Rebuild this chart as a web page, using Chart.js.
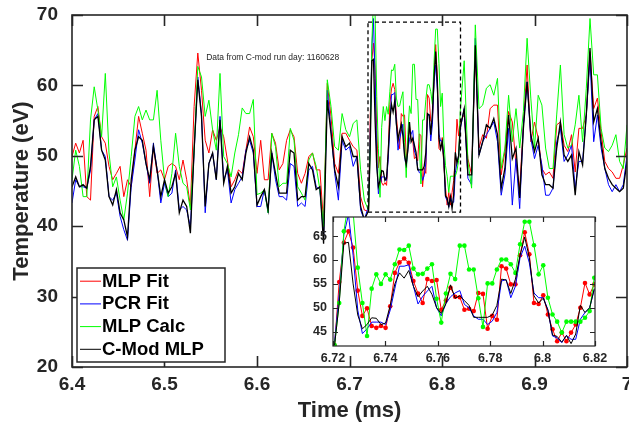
<!DOCTYPE html>
<html><head><meta charset="utf-8">
<script src="https://cdn.jsdelivr.net/npm/chart.js@4.4.1/dist/chart.umd.min.js"></script>
<style>
html,body{margin:0;padding:0;background:#fff;}
#wrap{position:relative;width:629px;height:425px;overflow:hidden;}
#main{position:absolute;left:0;top:0;}
#inset{position:absolute;left:290px;top:205px;}
</style></head><body>
<div id="wrap"><canvas id="main" width="629" height="425"></canvas><canvas id="inset" width="320" height="170"></canvas></div>
<script>
// ---------- data ----------
const seriesNames  = ['MLP Fit', 'PCR Fit', 'MLP Calc', 'C-Mod MLP'];
const seriesColors = ['#ff0000', '#0000ff', '#00ff00', '#000000'];

// main trace, 6.400 .. 6.716 ms (step 0.004)
const mlpFitA = [49.9,51.8,50.4,52.2,44.2,43.7,55.6,57.0,52.7,51.8,
  48.5,46.6,47.5,48.5,44.2,46.6,45.6,50.8,55.6,53.2,
  50.8,44.2,51.3,47.5,48.0,46.6,48.5,48.9,48.5,46.6,
  49.4,46.6,42.8,57.0,64.6,59.3,52.2,50.4,53.7,52.2,
  54.1,52.7,49.4,45.6,46.6,48.0,47.5,50.8,54.1,52.7,
  47.5,52.2,46.6,46.6,53.2,51.8,48.0,48.9,52.2,53.7,
  52.7,47.5,46.1,47.5,49.9,50.4,48.0,48.0,40.4,60.3,
  55.6,48.9,47.5,53.2,53.2,52.2,51.3,50.8,44.2,42.3];
const pcrFitA = [43.3,46.6,45.6,45.6,45.4,48.0,55.1,56.0,50.8,49.9,
  44.2,43.7,44.7,41.4,39.5,38.0,45.6,49.4,53.7,51.8,
  48.9,46.1,51.8,48.0,43.3,46.1,44.2,44.7,48.0,42.3,
  42.8,42.3,39.9,50.4,61.2,56.0,41.9,48.9,50.4,46.6,
  55.6,46.6,48.0,43.3,45.2,46.1,47.0,50.8,52.2,50.4,
  42.8,42.8,45.2,41.9,50.4,46.6,44.2,44.2,43.7,48.9,
  48.5,42.8,43.3,42.8,48.0,48.5,45.6,45.2,38.5,59.3,
  53.7,47.5,43.7,52.2,50.8,51.3,48.5,49.9,42.3,40.9];
const mlpCalcA = [46.6,50.8,48.5,44.2,44.2,55.1,59.8,56.5,52.7,61.7,
  50.4,45.6,47.0,43.7,40.9,44.7,49.9,55.6,57.0,55.1,
  56.5,55.1,55.1,59.3,52.2,46.6,44.2,47.5,53.2,48.5,
  46.1,45.6,42.3,50.8,62.7,61.2,55.6,57.9,53.7,50.8,
  61.7,49.9,48.9,47.0,50.4,53.0,56.8,56.0,56.0,58.0,
  44.5,44.7,45.2,41.9,53.2,51.3,45.6,46.1,46.1,53.9,
  52.2,45.6,44.7,43.7,49.4,50.4,48.5,45.2,39.9,60.8,
  57.0,51.3,50.8,56.0,53.7,52.7,54.6,55.1,48.0,43.7];
const cmodA = [45.6,47.0,45.6,45.9,45.4,48.5,55.1,55.6,50.8,49.4,
  44.2,43.0,45.2,41.9,40.9,38.5,46.6,50.8,52.7,52.2,
  48.9,46.6,51.3,48.0,44.2,46.6,44.7,45.6,47.5,41.9,
  43.7,42.8,39.0,50.8,60.8,55.6,42.8,48.9,50.4,46.6,
  55.1,46.1,48.5,44.7,45.6,47.5,46.6,50.4,52.7,50.8,
  43.0,44.2,45.2,42.3,50.4,47.5,44.7,44.7,44.7,50.8,
  50.4,43.7,44.2,44.2,48.9,48.0,45.2,45.6,37.5,57.9,
  53.2,48.0,45.6,52.7,51.3,51.8,49.9,49.9,42.8,40.9];

// zoomed window, 6.7206 .. 6.8197 ms (step 0.00177) - shown in inset
const mlpFitZ = [42.1,55.4,63.6,66.0,62.6,53.6,48.3,49.9,46.2,45.8,
  46.2,45.8,50.3,57.3,59.5,60.3,59.4,55.6,53.0,51.0,
  56.0,55.6,55.8,49.6,51.5,54.2,52.3,52.2,49.6,49.8,
  49.3,53.1,52.9,45.6,48.3,47.5,58.7,58.2,54.9,54.9,
  61.0,65.8,61.2,51.0,50.8,52.6,48.6,45.5,43.0,44.8,
  43.0,44.8,46.5,50.0,55.2,52.8,54.9];
const pcrFitZ = [42.9,52.8,65.3,69.5,61.0,49.5,44.6,45.6,47.0,47.0,
  47.0,46.5,49.5,54.0,58.7,58.7,59.0,54.5,50.8,52.4,
  53.5,54.5,50.0,48.3,50.9,52.3,53.1,53.6,50.7,50.0,
  48.3,47.6,47.6,46.5,47.2,49.0,55.6,55.9,52.1,54.5,
  60.5,62.9,59.4,53.1,52.1,52.1,49.6,44.1,43.7,42.7,
  44.2,43.4,43.4,47.6,49.0,50.0,53.8];
const mlpCalcZ = [42.2,51.0,66.0,72.0,70.0,58.4,51.0,44.1,54.0,57.0,
  55.0,57.0,55.9,59.1,62.2,62.1,63.0,58.2,57.0,57.1,
  58.2,59.1,51.9,46.9,53.0,57.1,56.0,63.0,63.0,58.0,
  58.0,52.0,46.0,55.1,55.1,58.0,60.1,60.1,59.1,57.3,
  63.3,68.0,68.0,63.1,57.0,58.9,52.1,48.6,47.1,44.8,
  47.1,47.1,47.1,47.1,47.9,49.3,56.3];
const cmodZ = [42.2,51.0,63.5,63.7,55.0,48.5,45.6,46.5,47.9,47.8,
  46.5,46.8,50.5,55.0,57.3,56.2,57.8,54.5,52.3,53.5,
  54.5,52.8,50.0,48.8,50.8,54.8,52.0,52.5,51.5,50.5,
  48.0,48.0,48.0,48.0,48.5,50.5,56.0,55.8,53.0,56.0,
  61.0,64.8,60.5,52.5,51.0,52.0,49.5,44.3,44.0,42.8,
  44.2,42.5,44.5,50.5,49.0,50.0,54.0];

// main trace, 6.824 .. 7.000 ms (step 0.004)
const mlpFitB = [55.8,49.6,47.3,64.8,51.1,53.0,52.5,56.7,57.2,57.2,
  47.3,50.6,56.3,54.8,48.7,45.4,54.4,62.9,52.0,54.8,
  52.5,48.2,47.3,47.7,46.8,54.4,54.8,51.5,50.6,53.0,
  47.7,53.9,53.9,55.8,64.8,56.7,58.2,53.4,49.2,48.2,
  47.7,46.8,46.8,48.7,51.1];
const pcrFitB = [56.7,46.8,45.9,66.7,50.1,52.0,53.0,53.9,54.8,52.0,
  44.4,47.3,53.9,43.0,49.6,42.5,54.4,60.5,52.5,49.6,
  51.5,48.7,44.4,44.4,45.4,52.0,53.9,49.2,50.1,51.5,
  45.4,49.2,49.2,55.8,63.8,52.0,55.8,51.1,48.2,45.9,
  44.9,45.9,44.9,45.9,50.1];
const mlpCalcB = [63.5,49.2,45.4,68.6,56.7,57.2,59.6,60.1,58.6,61.0,
  48.2,51.1,58.6,52.0,56.7,51.1,56.3,66.7,58.2,51.1,
  58.6,57.2,51.1,48.2,48.2,55.8,62.9,53.0,51.1,51.5,
  54.4,58.6,52.0,59.6,69.5,61.5,61.5,53.9,51.1,50.6,
  51.5,53.0,49.2,48.2,54.4];
const cmodB = [56.7,47.3,47.3,65.7,50.1,52.0,54.4,53.9,55.3,53.0,
  45.4,48.2,55.8,49.6,51.1,44.0,53.9,60.5,53.0,50.6,
  52.5,47.3,45.9,45.9,45.4,51.1,54.8,50.1,49.2,50.1,
  44.4,50.6,48.7,55.8,65.3,54.8,56.7,52.0,48.2,46.8,
  45.9,45.4,44.9,45.4,49.2];

// sampling times
const startA = 6.400, startZ = 6.7206, startB = 6.824;
const stepMain = 0.004, stepZoom = 0.00177;
const timeA = mlpFitA.map((_, i) => startA + stepMain * i);
const timeZ = mlpFitZ.map((_, k) => startZ + stepZoom * k);
const timeB = mlpFitB.map((_, i) => startB + stepMain * i);

// ticks
const xTicks = [6.4, 6.5, 6.6, 6.7, 6.8, 6.9, 7.0];
const xTickLabels = ['6.4', '6.5', '6.6', '6.7', '6.8', '6.9', '7'];
const yTicks = [20, 30, 40, 50, 60, 70];
const yTickLabels = ['20', '30', '40', '50', '60', '70'];
const insetXTicks = [6.72, 6.74, 6.76, 6.78, 6.80, 6.82];
const insetXTickLabels = ['6.72', '6.74', '6.76', '6.78', '6.8', '6.82'];
const insetYTicks = [45, 50, 55, 60, 65];
const insetYTickLabels = ['45', '50', '55', '60', '65'];

// zoom window (also shown as dashed box) and note
const zoomWindow = {x0: 6.72, x1: 6.82, y0: 42, y1: 69};
const noteText = 'Data from C-mod run day: 1160628';
const noteAt = {x: 6.545, y: 64.0};

// ---------- helpers ----------
const FONT = '"Liberation Sans", Arial, Helvetica, sans-serif';
const AXIS = '#262626';
const mainSets = [[mlpFitA, mlpFitZ, mlpFitB], [pcrFitA, pcrFitZ, pcrFitB],
                  [mlpCalcA, mlpCalcZ, mlpCalcB], [cmodA, cmodZ, cmodB]];
function joinSeries(a, z, b) {
  return [].concat(a.map((v, i) => ({x: timeA[i], y: v})),
                   z.map((v, k) => ({x: timeZ[k], y: v})),
                   b.map((v, i) => ({x: timeB[i], y: v})));
}
const drawOrder = [3, 2, 1, 0];

function drawInTicks(chart, len, lw) {
  const {ctx, chartArea: a, scales: {x, y}} = chart;
  ctx.save();
  ctx.strokeStyle = AXIS; ctx.lineWidth = lw;
  ctx.beginPath();
  x.ticks.forEach(t => {
    const p = Math.round(x.getPixelForValue(t.value)) + 0.5;
    ctx.moveTo(p, a.bottom); ctx.lineTo(p, a.bottom - len);
    ctx.moveTo(p, a.top); ctx.lineTo(p, a.top + len);
  });
  y.ticks.forEach(t => {
    const p = Math.round(y.getPixelForValue(t.value)) + 0.5;
    ctx.moveTo(a.left, p); ctx.lineTo(a.left + len, p);
    ctx.moveTo(a.right, p); ctx.lineTo(a.right - len, p);
  });
  ctx.stroke();
  ctx.strokeRect(a.left, a.top, a.right - a.left, a.bottom - a.top);
  ctx.restore();
}

const mainDecor = {
  id: 'mainDecor',
  afterDatasetsDraw(chart) {
    const {ctx, chartArea: a, scales: {x, y}} = chart;
    // dashed zoom box
    ctx.save();
    ctx.strokeStyle = '#000'; ctx.lineWidth = 1.3; ctx.setLineDash([4, 3]);
    const x0 = x.getPixelForValue(zoomWindow.x0), x1 = x.getPixelForValue(zoomWindow.x1);
    const y0 = y.getPixelForValue(zoomWindow.y0), y1 = y.getPixelForValue(zoomWindow.y1);
    ctx.strokeRect(x0, y1, x1 - x0, y0 - y1);
    ctx.restore();
    // note
    ctx.save();
    ctx.fillStyle = AXIS; ctx.font = '8.5px ' + FONT;
    ctx.textAlign = 'left'; ctx.textBaseline = 'middle';
    ctx.fillText(noteText, x.getPixelForValue(noteAt.x), y.getPixelForValue(noteAt.y));
    ctx.restore();
    drawInTicks(chart, 11, 1.6);
    // legend
    ctx.save();
    const bx = a.left + 5, bw = 148, bh = 94, by = a.bottom - 5 - bh, rowH = 22.7;
    ctx.fillStyle = '#fff'; ctx.fillRect(bx, by, bw, bh);
    ctx.strokeStyle = AXIS; ctx.lineWidth = 1.5; ctx.strokeRect(bx, by, bw, bh);
    ctx.font = 'bold 18.5px ' + FONT; ctx.textBaseline = 'middle'; ctx.textAlign = 'left';
    chart.data.datasets.forEach((ds, i) => {
      const cy = by + 12.7 + i * rowH;
      ctx.strokeStyle = ds.borderColor; ctx.lineWidth = 1;
      ctx.beginPath(); ctx.moveTo(bx + 3, cy + 0.5); ctx.lineTo(bx + 24, cy + 0.5); ctx.stroke();
      ctx.fillStyle = '#000';
      ctx.fillText(ds.label, bx + 25, cy + 1);
    });
    ctx.restore();
  }
};

new Chart(document.getElementById('main'), {
  type: 'line',
  data: {
    datasets: seriesNames.map((name, i) => ({
      label: name,
      data: joinSeries(...mainSets[i]),
      borderColor: seriesColors[i],
      borderWidth: i === 3 ? 1.3 : 1,
      pointRadius: 0,
      tension: 0,
      fill: false,
      order: drawOrder[i]
    }))
  },
  options: {
    responsive: false, animation: false, events: [],
    layout: {padding: {left: 0, right: 2, top: 15, bottom: 0}},
    plugins: {legend: {display: false}, tooltip: {enabled: false}},
    scales: {
      x: {
        type: 'linear', min: 6.4, max: 7.0,
        afterBuildTicks: s => { s.ticks = xTicks.map(v => ({value: v})); },
        ticks: {callback: (v, i) => xTickLabels[i], font: {family: FONT, size: 19, weight: 'bold'},
                color: AXIS, padding: 6, maxRotation: 0, autoSkip: false},
        grid: {display: false, drawTicks: false}, border: {display: false},
        title: {display: true, text: 'Time (ms)', color: AXIS,
                font: {family: FONT, size: 22, weight: 'bold'}, padding: {top: 0, bottom: 1}},
        afterFit: s => { s.height = 58; s.paddingLeft = 0; s.paddingRight = 0; }
      },
      y: {
        min: 20, max: 70,
        afterBuildTicks: s => { s.ticks = yTicks.map(v => ({value: v})); },
        ticks: {callback: (v, i) => yTickLabels[i], font: {family: FONT, size: 19, weight: 'bold'},
                color: AXIS, padding: 14},
        grid: {display: false, drawTicks: false}, border: {display: false},
        title: {display: true, text: 'Temperature (eV)', color: AXIS,
                font: {family: FONT, size: 22, weight: 'bold'}, padding: {top: 9, bottom: 0}},
        afterFit: s => { s.width = 72; s.paddingTop = 0; s.paddingBottom = 0; }
      }
    }
  },
  plugins: [mainDecor]
});

// ---------- inset ----------
const insetDecor = {
  id: 'insetDecor',
  beforeDatasetsDraw(chart) {
    const {ctx, chartArea: a} = chart;
    ctx.save(); ctx.fillStyle = '#fff';
    ctx.fillRect(a.left, a.top, a.right - a.left, a.bottom - a.top);
    ctx.restore();
  },
  afterDatasetsDraw(chart) { drawInTicks(chart, 5, 1.2); }
};
const insetSets = [mlpFitZ, pcrFitZ, mlpCalcZ, cmodZ];
const insetMarkers = [true, false, true, false];

new Chart(document.getElementById('inset'), {
  type: 'line',
  data: {
    datasets: seriesNames.map((name, i) => ({
      label: name,
      data: insetSets[i].map((v, k) => ({x: timeZ[k], y: v})),
      borderColor: seriesColors[i],
      backgroundColor: seriesColors[i],
      borderWidth: 1,
      pointRadius: insetMarkers[i] ? 2.3 : 0,
      pointBorderWidth: 0,
      tension: 0, fill: false,
      order: drawOrder[i]
    }))
  },
  options: {
    responsive: false, animation: false, events: [],
    layout: {padding: {left: 0, right: 15, top: 12, bottom: 0}},
    plugins: {legend: {display: false}, tooltip: {enabled: false}},
    scales: {
      x: {
        type: 'linear', min: zoomWindow.x0, max: zoomWindow.x1,
        afterBuildTicks: s => { s.ticks = insetXTicks.map(v => ({value: v})); },
        ticks: {callback: (v, i) => insetXTickLabels[i], font: {family: FONT, size: 12.5, weight: 'bold'},
                color: AXIS, padding: 5, maxRotation: 0, autoSkip: false},
        grid: {display: false, drawTicks: false}, border: {display: false},
        afterFit: s => { s.height = 29; s.paddingLeft = 0; s.paddingRight = 0; }
      },
      y: {
        min: zoomWindow.y0, max: zoomWindow.y1,
        afterBuildTicks: s => { s.ticks = insetYTicks.map(v => ({value: v})); },
        ticks: {callback: (v, i) => insetYTickLabels[i], font: {family: FONT, size: 12.5, weight: 'bold'},
                color: AXIS, padding: 6},
        grid: {display: false, drawTicks: false}, border: {display: false},
        afterFit: s => { s.width = 43; s.paddingTop = 0; s.paddingBottom = 0; }
      }
    }
  },
  plugins: [insetDecor]
});
</script>
</body></html>
